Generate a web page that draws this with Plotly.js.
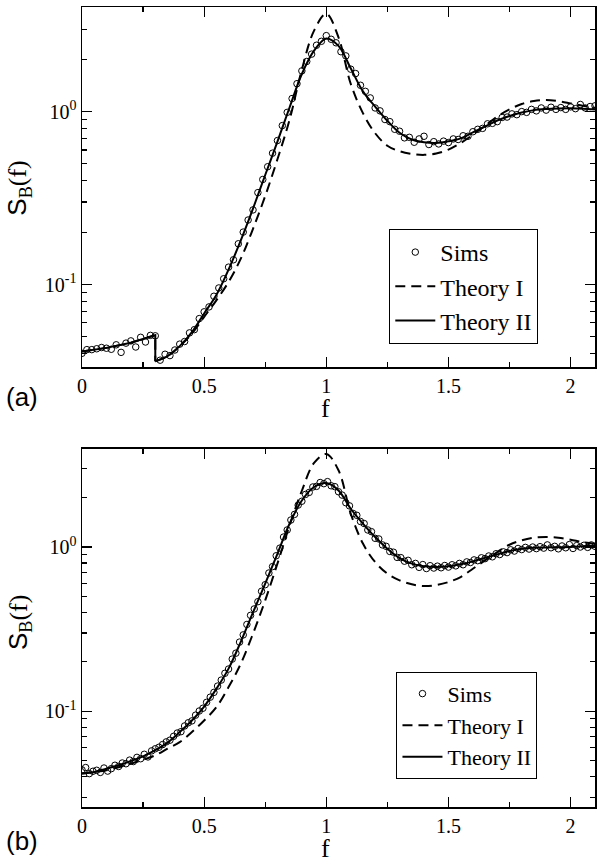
<!DOCTYPE html>
<html>
<head>
<meta charset="utf-8">
<script src="https://cdn.plot.ly/plotly-3.0.1.min.js"></script>
<style>html,body{margin:0;padding:0;background:#fff;}#chart{width:604px;height:863px;}</style>
</head>
<body>
<div id="chart"></div>
<script>
// ---------- Panel (a) ----------
// Theory curves below the cutoff (f <= 0.3), identical for both theories
const fLowA = [0, 0.1, 0.2, 0.3, 0.3];
const lowA = [0.041, 0.043, 0.046, 0.051, 0.036];

const fThA = [0.3, 0.35, 0.4, 0.45, 0.5, 0.55, 0.6, 0.65, 0.7, 0.75, 0.8, 0.85, 0.9, 0.95, 1.0, 1.05, 1.1, 1.15, 1.2, 1.25, 1.3, 1.35, 1.4, 1.45, 1.5, 1.55, 1.6, 1.65, 1.7, 1.75, 1.8, 1.85, 1.9, 1.95, 2.0, 2.05, 2.1];
const theory1A = [0.036, 0.0385, 0.044, 0.052, 0.065, 0.081, 0.1035, 0.141, 0.21, 0.325, 0.53, 0.9, 1.75, 2.94, 3.68, 2.69, 1.45, 0.98, 0.75, 0.635, 0.59, 0.569, 0.562, 0.572, 0.603, 0.658, 0.735, 0.828, 0.936, 1.03, 1.107, 1.15, 1.166, 1.15, 1.116, 1.08, 1.054];
const theory2A = [0.036, 0.0385, 0.044, 0.053, 0.068, 0.087, 0.122, 0.18, 0.275, 0.43, 0.67, 1.06, 1.65, 2.25, 2.65, 2.4, 1.78, 1.31, 1.07, 0.885, 0.755, 0.69, 0.664, 0.658, 0.673, 0.70, 0.758, 0.82, 0.888, 0.944, 0.987, 1.02, 1.035, 1.042, 1.045, 1.04, 1.03];

const fSimA = [0, 0.02, 0.04, 0.06, 0.08, 0.1, 0.12, 0.14, 0.16, 0.18, 0.2, 0.22, 0.24, 0.26, 0.28, 0.3, 0.32, 0.34, 0.36, 0.38, 0.4, 0.42, 0.44, 0.46, 0.48, 0.5, 0.52, 0.54, 0.56, 0.58, 0.6, 0.62, 0.64, 0.66, 0.68, 0.7, 0.72, 0.74, 0.76, 0.78, 0.8, 0.82, 0.84, 0.86, 0.88, 0.9, 0.92, 0.94, 0.96, 0.98, 1.0, 1.02, 1.04, 1.06, 1.08, 1.1, 1.12, 1.14, 1.16, 1.18, 1.2, 1.22, 1.24, 1.26, 1.28, 1.3, 1.32, 1.34, 1.36, 1.38, 1.4, 1.42, 1.44, 1.46, 1.48, 1.5, 1.52, 1.54, 1.56, 1.58, 1.6, 1.62, 1.64, 1.66, 1.68, 1.7, 1.72, 1.74, 1.76, 1.78, 1.8, 1.82, 1.84, 1.86, 1.88, 1.9, 1.92, 1.94, 1.96, 1.98, 2.0, 2.02, 2.04, 2.06, 2.08, 2.1];
const simA = [0.040, 0.042, 0.042, 0.0425, 0.0432, 0.0428, 0.0422, 0.0448, 0.0405, 0.0458, 0.0472, 0.0435, 0.0495, 0.0465, 0.0508, 0.0505, 0.0365, 0.0395, 0.0388, 0.0418, 0.0452, 0.0468, 0.0525, 0.0548, 0.0635, 0.0695, 0.0742, 0.0855, 0.0955, 0.108, 0.126, 0.139, 0.172, 0.201, 0.236, 0.27, 0.34, 0.405, 0.48, 0.575, 0.68, 0.83, 0.99, 1.19, 1.45, 1.72, 1.95, 2.15, 2.42, 2.55, 2.75, 2.62, 2.5, 2.22, 2.1, 1.76, 1.66, 1.42, 1.31, 1.2, 1.05, 1.01, 0.9, 0.875, 0.79, 0.77, 0.705, 0.71, 0.665, 0.695, 0.72, 0.645, 0.67, 0.65, 0.675, 0.662, 0.695, 0.69, 0.725, 0.72, 0.765, 0.79, 0.8, 0.85, 0.855, 0.875, 0.925, 0.93, 0.97, 0.96, 1.0, 0.99, 1.03, 1.01, 1.05, 1.02, 1.06, 1.03, 1.055, 1.03, 1.065, 1.04, 1.1, 1.05, 1.07, 1.08];

// ---------- Panel (b) ----------
const fThB = [0, 0.05, 0.1, 0.15, 0.2, 0.25, 0.3, 0.35, 0.4, 0.45, 0.5, 0.55, 0.6, 0.65, 0.7, 0.75, 0.8, 0.85, 0.9, 0.95, 1.0, 1.05, 1.1, 1.15, 1.2, 1.25, 1.3, 1.35, 1.4, 1.45, 1.5, 1.55, 1.6, 1.65, 1.7, 1.75, 1.8, 1.85, 1.9, 1.95, 2.0, 2.05, 2.1];
const theory1B = [0.0418, 0.0427, 0.0438, 0.0457, 0.048, 0.0508, 0.054, 0.0593, 0.065, 0.0748, 0.088, 0.106, 0.1405, 0.195, 0.297, 0.474, 0.792, 1.355, 2.2, 3.25, 3.68, 2.93, 1.6, 1.05, 0.81, 0.689, 0.627, 0.593, 0.579, 0.587, 0.612, 0.657, 0.738, 0.83, 0.933, 1.033, 1.098, 1.14, 1.15, 1.14, 1.108, 1.07, 1.047];
const theory2B = [0.0418, 0.0428, 0.0448, 0.047, 0.0499, 0.0532, 0.058, 0.0645, 0.0748, 0.088, 0.107, 0.137, 0.182, 0.265, 0.40, 0.598, 0.91, 1.39, 1.92, 2.32, 2.45, 2.21, 1.71, 1.39, 1.15, 0.977, 0.857, 0.792, 0.763, 0.756, 0.763, 0.785, 0.818, 0.861, 0.902, 0.946, 0.977, 0.99, 0.995, 0.998, 1.0, 1.01, 1.02];

const fSimB = [0, 0.015, 0.03, 0.045, 0.06, 0.075, 0.09, 0.105, 0.12, 0.135, 0.15, 0.165, 0.18, 0.195, 0.21, 0.225, 0.24, 0.255, 0.27, 0.285, 0.3, 0.315, 0.33, 0.345, 0.36, 0.375, 0.39, 0.405, 0.42, 0.435, 0.45, 0.465, 0.48, 0.495, 0.51, 0.525, 0.54, 0.555, 0.57, 0.585, 0.6, 0.615, 0.63, 0.645, 0.66, 0.675, 0.69, 0.705, 0.72, 0.735, 0.75, 0.765, 0.78, 0.795, 0.81, 0.825, 0.84, 0.855, 0.87, 0.885, 0.9, 0.915, 0.93, 0.945, 0.96, 0.975, 0.99, 1.005, 1.02, 1.035, 1.05, 1.065, 1.08, 1.095, 1.11, 1.125, 1.14, 1.155, 1.17, 1.185, 1.2, 1.215, 1.23, 1.245, 1.26, 1.275, 1.29, 1.305, 1.32, 1.335, 1.35, 1.365, 1.38, 1.395, 1.41, 1.425, 1.44, 1.455, 1.47, 1.485, 1.5, 1.515, 1.53, 1.545, 1.56, 1.575, 1.59, 1.605, 1.62, 1.635, 1.65, 1.665, 1.68, 1.695, 1.71, 1.725, 1.74, 1.755, 1.77, 1.785, 1.8, 1.815, 1.83, 1.845, 1.86, 1.875, 1.89, 1.905, 1.92, 1.935, 1.95, 1.965, 1.98, 1.995, 2.01, 2.025, 2.04, 2.055, 2.07, 2.085, 2.1];
const simB = [0.0440, 0.0455, 0.0418, 0.0432, 0.0438, 0.0425, 0.0452, 0.0433, 0.0448, 0.0470, 0.0462, 0.0485, 0.0480, 0.0505, 0.0495, 0.0525, 0.0515, 0.0548, 0.0528, 0.0575, 0.0592, 0.0605, 0.0628, 0.0652, 0.0668, 0.0705, 0.0738, 0.0752, 0.0815, 0.0852, 0.0875, 0.0948, 0.1005, 0.1045, 0.1135, 0.122, 0.1305, 0.1425, 0.155, 0.1705, 0.181, 0.208, 0.226, 0.264, 0.292, 0.338, 0.384, 0.42, 0.465, 0.538, 0.59, 0.695, 0.76, 0.885, 0.985, 1.15, 1.27, 1.46, 1.58, 1.8, 1.9, 2.09, 2.15, 2.32, 2.34, 2.47, 2.43, 2.5, 2.36, 2.33, 2.17, 2.07, 1.86, 1.78, 1.6, 1.56, 1.43, 1.39, 1.27, 1.24, 1.13, 1.12, 1.03, 1.01, 0.94, 0.93, 0.865, 0.862, 0.82, 0.83, 0.78, 0.795, 0.752, 0.782, 0.74, 0.77, 0.745, 0.765, 0.748, 0.772, 0.755, 0.78, 0.768, 0.795, 0.78, 0.812, 0.805, 0.835, 0.826, 0.86, 0.85, 0.882, 0.872, 0.91, 0.9, 0.935, 0.925, 0.962, 0.945, 0.98, 0.965, 0.995, 0.972, 1.0, 0.978, 1.005, 0.985, 1.03, 0.99, 1.01, 0.975, 1.015, 0.99, 1.035, 0.98, 1.02, 1.0, 1.025, 0.995, 1.03, 1.01];

// ---------- Tick labels ----------
const xTickVals = [0, 0.5, 1, 1.5, 2];
const xTickText = ['0', '0.5', '1', '1.5', '2'];
const yTickVals = [0.1, 1];
const yTickText = ['10<sup>-1</sup>', '10<sup>0</sup>'];
const yMinorVals = [0.02, 0.03, 0.04, 0.05, 0.06, 0.07, 0.08, 0.09, 0.2, 0.3, 0.4, 0.5, 0.6, 0.7, 0.8, 0.9, 2, 3, 4, 5];

const legendNames = ['Sims', 'Theory I', 'Theory II'];
const panelLabels = ['(a)', '(b)'];

// ---------- Styles ----------
const SERIF = 'Liberation Serif';
const SANS = 'Liberation Sans';
const dashStyle = '10px,6px';

function simTrace(x, y, xa, ya, lg) {
  return {x: x, y: y, xaxis: xa, yaxis: ya, type: 'scatter', mode: 'markers', name: legendNames[0],
    legend: lg, legendgroup: lg + 's',
    marker: {symbol: 'circle-open', size: 6.5, color: 'black', line: {width: 1, color: 'black'}}};
}
function lineTrace(x, y, xa, ya, lg, idx, dashed, show, shape) {
  return {x: x, y: y, xaxis: xa, yaxis: ya, type: 'scatter', mode: 'lines', name: legendNames[idx],
    legend: lg, legendgroup: lg + idx, showlegend: show,
    line: {color: 'black', width: 2, dash: dashed ? dashStyle : 'solid', shape: shape, smoothing: 1}};
}

const traces = [
  simTrace(fSimA, simA, 'x', 'y', 'legend'),
  lineTrace(fThA, theory1A, 'x', 'y', 'legend', 1, true, true, 'spline'),
  lineTrace(fLowA, lowA, 'x', 'y', 'legend', 1, true, false, 'linear'),
  lineTrace(fThA, theory2A, 'x', 'y', 'legend', 2, false, true, 'spline'),
  lineTrace(fLowA, lowA, 'x', 'y', 'legend', 2, false, false, 'linear'),
  simTrace(fSimB, simB, 'x2', 'y2', 'legend2'),
  lineTrace(fThB, theory1B, 'x2', 'y2', 'legend2', 1, true, true, 'spline'),
  lineTrace(fThB, theory2B, 'x2', 'y2', 'legend2', 2, false, true, 'spline')
];

function xAxis(anchor) {
  return {anchor: anchor, domain: [0, 1], range: [0, 2.1], showgrid: false, zeroline: false,
    showline: true, linecolor: 'black', linewidth: 1.5, mirror: 'ticks',
    ticks: 'inside', ticklen: 10, tickwidth: 1.2, tickcolor: 'black',
    tickmode: 'array', tickvals: xTickVals, ticktext: xTickText,
    minor: {tickmode: 'linear', tick0: 0, dtick: 0.25, ticklen: 5, tickwidth: 1.2, tickcolor: 'black', ticks: 'inside', showgrid: false},
    tickfont: {family: SERIF, size: 20, color: 'black'}};
}
function yAxis(anchor, domain, range) {
  return {anchor: anchor, domain: domain, type: 'log', range: range, showgrid: false, zeroline: false,
    showline: true, linecolor: 'black', linewidth: 1.5, mirror: 'ticks',
    ticks: 'inside', ticklen: 10, tickwidth: 1.2, tickcolor: 'black',
    tickmode: 'array', tickvals: yTickVals, ticktext: yTickText,
    minor: {tickmode: 'array', tickvals: yMinorVals, ticklen: 5, tickwidth: 1.2, tickcolor: 'black', ticks: 'inside', showgrid: false},
    tickfont: {family: SERIF, size: 20, color: 'black'}};
}

function legendCfg(x, y, size) {
  return {x: x, y: y, xanchor: 'left', yanchor: 'top', xref: 'paper', yref: 'paper',
    bgcolor: 'white', bordercolor: 'black', borderwidth: 1, tracegroupgap: 0,
    itemwidth: 40, font: {family: SERIF, size: size, color: 'black'}};
}

const yTitle = '<span style="font-family:Liberation Sans">S</span><sub>B</sub>(f)';

function ann(text, x, y, family, size, angle, h) {
  const a = {text: text, xref: 'paper', yref: 'paper', x: x, y: y, xanchor: 'center', yanchor: 'middle',
    textangle: angle, showarrow: false, font: {family: family, size: size, color: 'black'}};
  if (h) { a.height = h; }
  return a;
}

const layout = {
  width: 604, height: 863,
  margin: {l: 82, r: 9, t: 7, b: 56},
  paper_bgcolor: 'white', plot_bgcolor: 'white',
  font: {family: SERIF, color: 'black'},
  xaxis: xAxis('y'),
  yaxis: yAxis('x', [0.5496, 1], [-1.479, 0.605]),
  xaxis2: xAxis('y2'),
  yaxis2: yAxis('x2', [0, 0.448], [-1.582, 0.599]),
  legend: legendCfg(0.599, 0.7225, 24),
  legend2: legendCfg(0.613, 0.169, 22),
  showlegend: true,
  annotations: [
    ann(panelLabels[0], -0.117, 0.5125, SANS, 26, 0),
    ann(panelLabels[1], -0.117, -0.0425, SANS, 26, 0),
    ann('f', 0.4756, 0.4988, SERIF, 26, 0, 24),
    ann('f', 0.4756, -0.0512, SERIF, 26, 0, 24),
    ann(yTitle, -0.123, 0.774, SERIF, 26, -90),
    ann(yTitle, -0.123, 0.231, SERIF, 26, -90)
  ]
};

Plotly.newPlot('chart', traces, layout, {displayModeBar: false, staticPlot: true});
</script>
</body>
</html>
